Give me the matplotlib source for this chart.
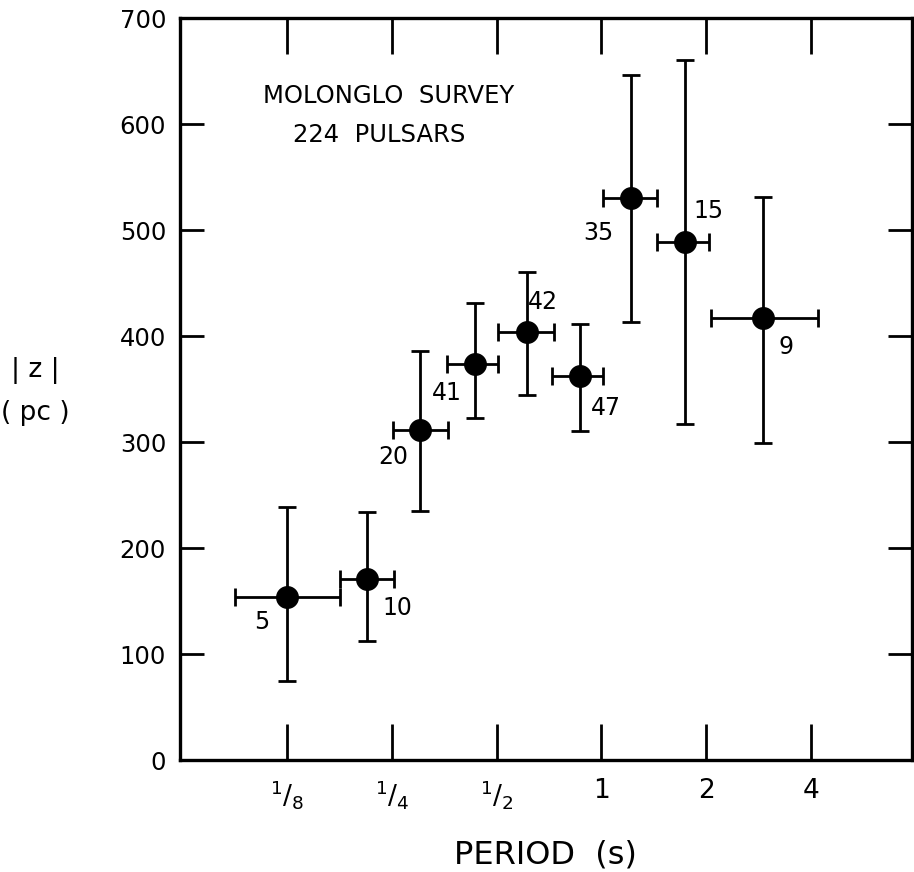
import matplotlib
matplotlib.use("Agg")
import matplotlib.pyplot as plt
import numpy as np

# ---- data ----
period_center = [0.125, 0.212, 0.301, 0.433, 0.610, 0.868, 1.214, 1.739, 2.918]
period_lo     = [0.0887, 0.177, 0.252, 0.361, 0.506, 0.720, 1.008, 1.442, 2.065]
period_hi     = [0.178, 0.253, 0.363, 0.506, 0.731, 1.012, 1.442, 2.042, 4.20]
z_value       = [154, 171, 311, 374, 404, 362, 530, 489, 417]
z_lo          = [75, 112, 235, 323, 344, 310, 413, 317, 299]
z_hi          = [239, 234, 386, 431, 460, 411, 646, 660, 531]
n_pulsars     = ["5", "10", "20", "41", "42", "47", "35", "15", "9"]

xtick_values = [0.125, 0.25, 0.5, 1, 2, 4]
xtick_labels = [r"$^{1}/_{8}$", r"$^{1}/_{4}$", r"$^{1}/_{2}$", "1", "2", "4"]
ytick_values = [0, 100, 200, 300, 400, 500, 600, 700]

# label offsets (pixels, relative to each point; +y is up)
label_offsets_px = [(-25, -25), (31, -29), (-27, -27), (-28, -29), (16, 30),
                    (26, -32), (-32, -35), (23, 31), (23, -29)]

plt.rcParams['font.family'] = ['DejaVu Sans']

fig = plt.figure(figsize=(9.14, 8.72), dpi=100)
ax = fig.add_axes([180/914, 1 - 760/872, (912 - 180)/914, (760 - 18)/872])

x = np.array(period_center)
y = np.array(z_value)
xerr = np.vstack([x - np.array(period_lo), np.array(period_hi) - x])
yerr = np.vstack([y - np.array(z_lo), np.array(z_hi) - y])

ax.errorbar(x, y, xerr=xerr, yerr=yerr, fmt='o', color='black',
            markersize=15.5, elinewidth=2.0, capsize=6.5, capthick=2.0)

px2pt = 72 / 100
for xi, yi, lab, (dx, dy) in zip(x, y, n_pulsars, label_offsets_px):
    ax.annotate(lab, (xi, yi), xytext=(dx * px2pt, dy * px2pt),
                textcoords='offset points', ha='center', va='center',
                fontsize=17)

ax.set_xscale('log', base=2)
ax.set_xlim(2 ** -4.021, 2 ** 2.964)
ax.set_ylim(0, 700)
ax.set_xticks(xtick_values)
ax.set_xticklabels(xtick_labels, fontsize=19)
ax.xaxis.set_minor_locator(matplotlib.ticker.NullLocator())
ax.set_yticks(ytick_values)
ax.set_yticklabels([str(v) for v in ytick_values], fontsize=17.5)

ax.tick_params(axis='x', which='major', direction='in', length=26, width=2.0,
               top=True, bottom=True, pad=13)
ax.tick_params(axis='y', which='major', direction='in', length=17, width=2.0,
               left=True, right=True, pad=10)
for s in ax.spines.values():
    s.set_linewidth(2.4)

ax.text(0.285, 0.895, "MOLONGLO  SURVEY", transform=ax.transAxes,
        ha='center', va='center', fontsize=17.5)
ax.text(0.272, 0.842, "224  PULSARS", transform=ax.transAxes,
        ha='center', va='center', fontsize=17.5)

fig.text(545/914, 1 - 855/872, "PERIOD  (s)", ha='center', va='center', fontsize=23)
fig.text(35/914, 1 - 370/872, "| z |", ha='center', va='center', fontsize=19)
fig.text(35/914, 1 - 413/872, "( pc )", ha='center', va='center', fontsize=19)

fig.savefig("out.png", dpi=100)
